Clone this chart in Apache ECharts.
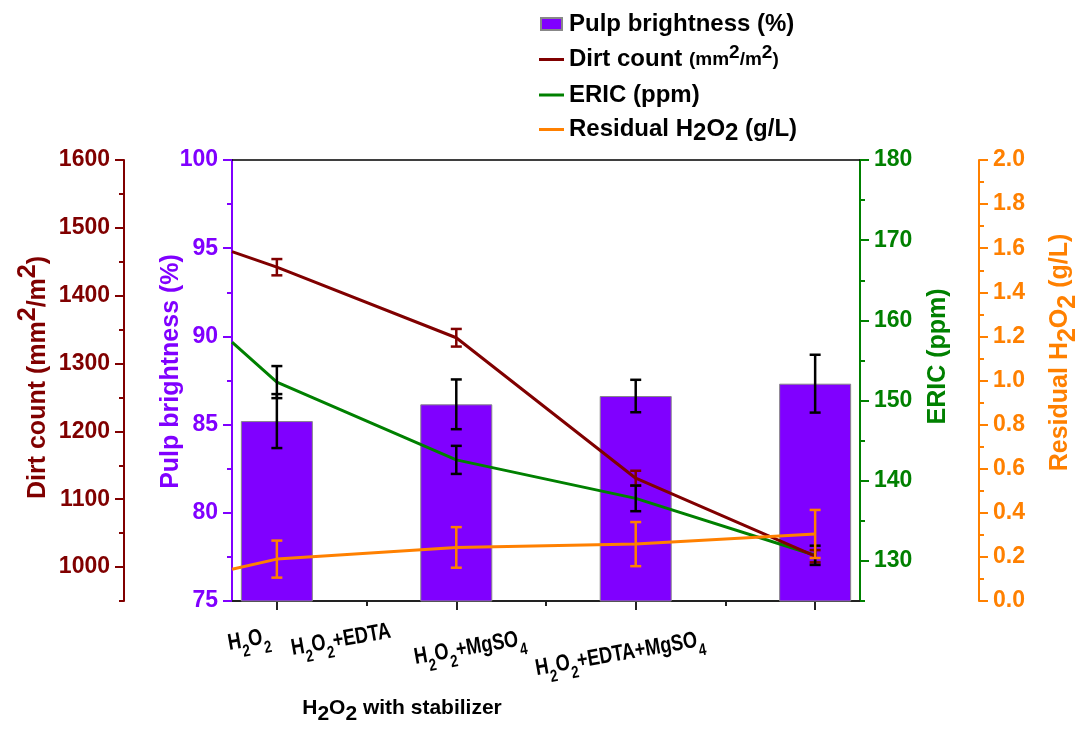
<!DOCTYPE html>
<html>
<head>
<meta charset="utf-8">
<script src="https://cdn.jsdelivr.net/npm/echarts@6/dist/echarts.min.js"></script>
<style>
  html, body { margin: 0; padding: 0; background: #fff; }
  #chart { width: 1079px; height: 730px; }
</style>
</head>
<body>
<div id="chart"></div>
<script>
// treatments sit at x = 1..4 on a value axis that runs 0.75 .. 4.25
const categories = ['H2O2', 'H2O2+EDTA', 'H2O2+MgSO4', 'H2O2+EDTA+MgSO4'];
const barX = [1, 2, 3, 4];
const minorX = [1.5, 2.5, 3.5];
// the three lines start on the left frame in the original figure
const lineX = [0.75, 1, 2, 3, 4];

const brightness = [85.2, 86.15, 86.62, 87.32];
const brightnessErr = [1.53, 1.41, 0.92, 1.64];

const dirtCount = [1465, 1442, 1338, 1131, 1016];
const dirtCountErr = [null, 12, 13, 11, 9];

const eric = [157.3, 152.3, 142.6, 137.8, 130.7];
const ericErr = [null, 2.0, 1.75, 1.6, 1.2];

const residual = [0.144, 0.19, 0.243, 0.258, 0.304];
const residualErr = [null, 0.084, 0.092, 0.10, 0.109];

// axis ticks
const brightnessTicks = [75, 80, 85, 90, 95, 100];
const brightnessMinor = [77.5, 82.5, 87.5, 92.5, 97.5];
const dirtTicks = [1000, 1100, 1200, 1300, 1400, 1500, 1600];
const dirtMinor = [950, 1050, 1150, 1250, 1350, 1450, 1550];
const ericTicks = [130, 140, 150, 160, 170, 180];
const ericMinor = [125, 135, 145, 155, 165, 175];
const residualTicks = [0, 0.2, 0.4, 0.6, 0.8, 1.0, 1.2, 1.4, 1.6, 1.8, 2.0];
const residualMinor = [0.1, 0.3, 0.5, 0.7, 0.9, 1.1, 1.3, 1.5, 1.7, 1.9];

const PURPLE = '#8000ff', DARKRED = '#800000', GREEN = '#008000', ORANGE = '#ff8000';
const FONT = 'Arial, "Liberation Sans", sans-serif';

const names = ['Pulp brightness (%)', 'Dirt count (mm2/m2)', 'ERIC (ppm)', 'Residual H2O2 (g/L)'];
const legendRich = {
  'Pulp brightness (%)': 'Pulp brightness (%)',
  'Dirt count (mm2/m2)': 'Dirt count {sm|(mm}{sup|2}{sm|/m}{sup|2}{sm|)}',
  'ERIC (ppm)': 'ERIC (ppm)',
  'Residual H2O2 (g/L)': 'Residual H{sub|2}O{sub|2} (g/L)',
};
// short thick line for the legend; the move-tos keep the icon box full height
const lineIcon = 'path://M0,0 M0,12 M0,4.5 L25,4.5 L25,7.5 L0,7.5 Z';

function subDigits(s) {
  return s.replace(/(\d)/g, '{s|$1}');
}

function bold(size, extra) {
  return Object.assign({ fontSize: size, fontWeight: 'bold', fontFamily: FONT }, extra || {});
}

function yPair(o) {
  const major = {
    type: 'value', position: o.pos, offset: o.offset, min: o.min, max: o.max,
    name: o.name, nameLocation: 'middle', nameGap: o.gap, nameRotate: 90, nameMoveOverlap: false,
    nameTextStyle: bold(25, { color: o.color, lineHeight: 30, padding: o.namePad, rich: o.rich }),
    axisLine: { show: true, onZero: false, lineStyle: { color: o.color, width: 2 } },
    axisTick: { show: true, length: 9, customValues: o.ticks, lineStyle: { color: o.color, width: 2 } },
    axisLabel: bold(23, { color: o.color, margin: 14, customValues: o.ticks, formatter: o.fmt || (v => String(v)) }),
    splitLine: { show: false },
  };
  const minor = {
    type: 'value', position: o.pos, offset: o.offset, min: o.min, max: o.max,
    axisLine: { show: false, onZero: false },
    axisTick: { show: true, length: 5, customValues: o.minor, lineStyle: { color: o.color, width: 2 } },
    axisLabel: { show: false, customValues: o.minor },
    splitLine: { show: false },
  };
  return [major, minor];
}

function errorBars(name, yAxisIndex, xs, ys, errs, color) {
  const data = [];
  xs.forEach((x, i) => { if (errs[i] != null) data.push([x, ys[i], errs[i]]); });
  return {
    type: 'custom', name, xAxisIndex: 0, yAxisIndex, z: 6, silent: true,
    encode: { x: 0, y: 1 },
    data,
    renderItem(params, api) {
      const x = api.value(0), y = api.value(1), e = api.value(2);
      const lo = api.coord([x, y - e]), hi = api.coord([x, y + e]);
      const cap = 5.5;
      const style = { stroke: color, lineWidth: 2.5 };
      return {
        type: 'group',
        children: [
          { type: 'line', shape: { x1: lo[0], y1: lo[1], x2: hi[0], y2: hi[1] }, style },
          { type: 'line', shape: { x1: lo[0] - cap, y1: lo[1], x2: lo[0] + cap, y2: lo[1] }, style },
          { type: 'line', shape: { x1: hi[0] - cap, y1: hi[1], x2: hi[0] + cap, y2: hi[1] }, style },
        ],
      };
    },
  };
}

const yAxes = [].concat(
  yPair({ pos: 'left', offset: 0, min: 75, max: 100, ticks: brightnessTicks, minor: brightnessMinor,
    color: PURPLE, name: names[0], gap: 46, namePad: [0, 0, 0, 18] }),
  yPair({ pos: 'left', offset: 108, min: 950, max: 1600, ticks: dirtTicks, minor: dirtMinor,
    color: DARKRED, name: 'Dirt count (mm{sup|2}/m{sup|2})', gap: 71, namePad: [0, 0, 0, 6],
    rich: { sup: bold(25, { color: DARKRED, lineHeight: 30, padding: [0, 0, 20, 0] }) } }),
  yPair({ pos: 'right', offset: 0, min: 125, max: 180, ticks: ericTicks, minor: ericMinor,
    color: GREEN, name: names[2], gap: 63, namePad: [0, 0, 0, 48] }),
  yPair({ pos: 'right', offset: 119, min: 0, max: 2, ticks: residualTicks, minor: residualMinor,
    color: ORANGE, name: 'Residual H{sub|2}O{sub|2} (g/L)', gap: 66, namePad: [0, 0, 0, 56],
    fmt: v => v.toFixed(1),
    rich: { sub: bold(25, { color: ORANGE, lineHeight: 30, padding: [16, 0, 0, 0] }) } })
);

const labelPos = [[249, 640], [341, 640], [470, 648], [620, 654]];
const subStyle = bold(17, { fill: '#000', lineHeight: 30, padding: [22, 0, 0, 0] });

const chart = echarts.init(document.getElementById('chart'));
chart.setOption({
  backgroundColor: '#fff',
  animation: false,
  textStyle: { fontFamily: FONT },
  grid: { left: 232, right: 219, top: 160, bottom: 129, containLabel: false, outerBoundsMode: 'none' },
  legend: {
    orient: 'vertical', left: 534, top: 5, itemWidth: 25, itemHeight: 12, itemGap: 5, itemTextGap: 7,
    data: [
      { name: names[0], icon: 'path://M2,0 L23,0 L23,12 L2,12 Z' },
      { name: names[1], icon: lineIcon },
      { name: names[2], icon: lineIcon },
      { name: names[3], icon: lineIcon },
    ],
    formatter: n => legendRich[n],
    textStyle: bold(24, {
      color: '#000', lineHeight: 28,
      rich: {
        sm: bold(19, { color: '#000', lineHeight: 28 }),
        sup: bold(19, { color: '#000', lineHeight: 28, padding: [0, 0, 14, 0] }),
        sub: bold(24, { color: '#000', lineHeight: 28, padding: [7, 0, 0, 0] }),
      },
    }),
  },
  xAxis: [
    {
      type: 'value', min: 0.75, max: 4.25, position: 'bottom',
      axisLine: { onZero: false, lineStyle: { color: '#222', width: 2 } },
      axisTick: { length: 9, customValues: barX, lineStyle: { color: '#222', width: 2 } },
      axisLabel: { show: false, customValues: barX },
      splitLine: { show: false },
    },
    {
      type: 'value', min: 0.75, max: 4.25, position: 'bottom',
      axisLine: { show: false, onZero: false },
      axisTick: { length: 5, customValues: minorX, lineStyle: { color: '#222', width: 2 } },
      axisLabel: { show: false, customValues: minorX },
      splitLine: { show: false },
    },
    {
      type: 'value', min: 0.75, max: 4.25, position: 'top',
      axisLine: { onZero: false, lineStyle: { color: '#000', width: 1.5 } },
      axisTick: { show: false }, axisLabel: { show: false }, splitLine: { show: false },
    },
  ],
  yAxis: yAxes,
  series: [
    {
      name: names[0], type: 'bar', xAxisIndex: 0, yAxisIndex: 0, barWidth: 72, z: 2,
      data: barX.map((x, i) => [x, brightness[i]]),
      itemStyle: { color: PURPLE, borderColor: '#888', borderWidth: 1 },
    },
    {
      name: names[1], type: 'line', xAxisIndex: 0, yAxisIndex: 2, symbol: 'none', z: 4,
      data: lineX.map((x, i) => [x, dirtCount[i]]),
      lineStyle: { color: DARKRED, width: 3 }, itemStyle: { color: DARKRED },
    },
    {
      name: names[2], type: 'line', xAxisIndex: 0, yAxisIndex: 4, symbol: 'none', z: 3,
      data: lineX.map((x, i) => [x, eric[i]]),
      lineStyle: { color: GREEN, width: 3 }, itemStyle: { color: GREEN },
    },
    {
      name: names[3], type: 'line', xAxisIndex: 0, yAxisIndex: 6, symbol: 'none', z: 4,
      data: lineX.map((x, i) => [x, residual[i]]),
      lineStyle: { color: ORANGE, width: 3 }, itemStyle: { color: ORANGE },
    },
    errorBars('brightness-err', 0, barX, brightness, brightnessErr, '#000'),
    errorBars('dirt-err', 2, lineX, dirtCount, dirtCountErr, DARKRED),
    errorBars('eric-err', 4, lineX, eric, ericErr, '#000'),
    errorBars('residual-err', 6, lineX, residual, residualErr, ORANGE),
  ],
  graphic: categories.map((c, i) => ({
    type: 'text', x: labelPos[i][0], y: labelPos[i][1],
    rotation: 10 * Math.PI / 180, scaleX: 0.79,
    style: Object.assign(bold(23), {
      text: subDigits(c), fill: '#000', lineHeight: 30,
      align: 'center', verticalAlign: 'middle', textAlign: 'center', textVerticalAlign: 'middle',
      rich: { s: subStyle },
    }),
  })).concat([{
    type: 'text', x: 402, y: 708,
    style: Object.assign(bold(21), {
      text: 'H{s|2}O{s|2} with stabilizer', fill: '#000', lineHeight: 30,
      align: 'center', verticalAlign: 'middle', textAlign: 'center', textVerticalAlign: 'middle',
      rich: { s: bold(21, { fill: '#000', lineHeight: 30, padding: [13, 0, 0, 0] }) },
    }),
  }]),
});
</script>
</body>
</html>
